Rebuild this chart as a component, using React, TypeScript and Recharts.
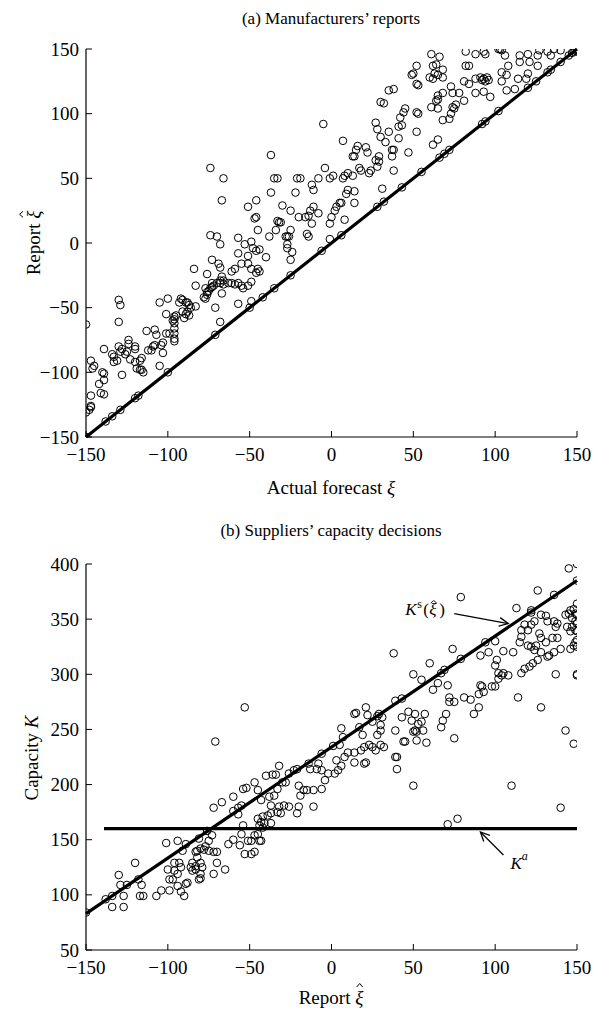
import React from 'react';
import { ScatterChart, Scatter, XAxis, YAxis, ReferenceLine, ReferenceDot } from 'recharts';

const SERIF = '"Liberation Serif", "Times New Roman", Times, serif';
const XI = '\u03BE';

const forecastTicks = [-150, -100, -50, 0, 50, 100, 150];
const capacityTicks = [50, 100, 150, 200, 250, 300, 350, 400];
const forecastDomain = [-150, 150];
const capacityDomain = [50, 400];

// Panel (a): [actual forecast, report]
const manufacturerReports: [number, number][] = [
  [-150,-63],[-147,-91],[-145,-95],[-146,-97],[-147,-118],[-147,-126],[-147,-127],[-148,-129],[-150,-131],[-150,-150],
  [-139,-82],[-140,-100],[-139,-101],[-142,-109],[-141,-116],[-139,-117],[-139,-106],[-138,-138],
  [-134,-86],[-133,-88],[-133,-92],[-131,-91],[-134,-134],
  [-130,-44],[-129,-48],[-130,-61],[-130,-80],[-128,-82],[-129,-84],[-125,-84],[-126,-86],[-124,-75],[-124,-78],[-123,-90],[-128,-102],[-129,-129],
  [-120,-80],[-117,-91],[-116,-89],[-119,-97],[-117,-98],[-116,-98],[-120,-92],[-120,-82],[-115,-100],[-120,-120],[-118,-118],
  [-112,-83],[-110,-83],[-109,-80],[-108,-79],[-113,-68],[-108,-67],[-107,-71],[-104,-79],[-103,-85],[-105,-95],
  [-105,-46],[-100,-43],[-101,-55],[-101,-70],[-99,-70],[-103,-77],[-100,-100],
  [-97,-60],[-96,-59],[-96,-57],[-95,-56],[-96,-62],[-96,-66],[-96,-70],[-96,-74],[-96,-76],
  [-92,-43],[-91,-44],[-93,-46],[-89,-46],[-88,-46],[-89,-55],[-88,-53],[-87,-56],[-90,-58],[-91,-53],
  [-87,-48],[-86,-50],[-83,-49],[-83,-33],[-78,-42],[-77,-43],
  [-77,-35],[-76,-38],[-76,-40],[-75,-37],[-74,-35],[-73,-34],[-72,-33],[-73,-31],
  [-71,-71],[-71,-50],[-70,-31],[-68,-31],[-66,-32],[-67,-39],[-68,-61],
  [-63,-31],[-61,-31],[-59,-32],[-57,-31],[-55,-33],[-51,-33],[-49,-30],[-54,-35],[-57,-47],[-50,-50],[-49,-45],[-35,-35],[-42,-42],
  [-74,58],[-66,50],[-37,68],[-67,33],[-51,28],[-46,33],[-47,19],[-46,20],[-45,10],[-74,6],[-70,5],[-68,-1],[-57,4],[-53,-1],[-49,1],
  [-48,-4],[-46,-6],[-44,-5],[-40,-11],[-57,-8],[-55,-16],[-51,-10],[-51,-16],[-49,-20],[-45,-20],[-44,-22],[-46,-23],[-73,-13],[-69,-16],
  [-68,-19],[-84,-20],[-76,-24],[-61,-22],[-59,-20],[-67,-26],[-68,-29],[-66,-29],
  [-38,5],[-34,10],[-32,16],[-31,16],[-33,17],[-28,5],[-27,5],[-26,5],[-25,10],[-30,29],[-25,25],[-20,20],[-27,-4],[-24,-7],[-25,-13],
  [-27,-1],[-21,50],[-22,39],[-35,50],[-33,50],[-37,39],[-25,-25],
  [-5,92],[7,79],[-19,50],[-16,20],[-14,21],[-12,15],[-13,25],[-11,28],[-8,23],[-12,45],[-11,41],[-8,50],[-15,7],[-14,5],[-4,58],[-1,50],
  [1,52],[-1,15],[0,20],[2,25],[3,28],[5,31],[6,31],[-1,3],[8,18],
  [7,50],[8,52],[10,54],[9,38],[10,41],[13,52],[14,40],[14,31],[17,58],[18,56],[14,67],[13,67],[16,75],[15,72],[21,74],[22,70],
  [23,54],[24,56],[27,64],[28,59],[29,63],[30,82],[33,78],[29,67],[31,42],[38,56],[37,72],[38,72],[37,67],[41,81],[43,91],[44,101],
  [45,104],[42,97],[41,90],[35,86],[47,70],[52,86],[52,101],[53,100],[49,130],[50,131],[52,123],[53,122],[52,137],
  [27,93],[28,88],[35,118],[38,119],[30,109],[32,108],
  [60,128],[62,127],[65,130],[68,128],[68,134],[63,131],
  [61,105],[65,104],[64,110],[65,114],[68,116],[65,111],
  [62,76],[65,80],[68,95],[72,96],[73,100],[74,105],[75,104],[76,107],[73,121],[74,116],[78,116],[81,110],
  [81,125],[84,123],[88,127],[91,128],[93,127],[95,128],[96,126],[93,117],[97,113],[88,116],[94,125],[92,126],
  [82,137],[84,137],[104,132],[107,130],[108,137],[114,127],[119,127],[120,131],[126,137],[104,125],[107,118],[112,119],[115,140],
  [-6,-6],[6,6],[28,28],[32,32],[43,43],[55,55],[66,66],[69,69],[72,72],[92,92],[94,94],[102,102],[120,120],[125,125],[132,132],[134,134],[140,140],
  [61,146],[66,144],[82,148],[88,146],[93,148],[94,146],[102,150],[103,150],[104,149],[106,145],[115,145],[120,146],[126,145],[127,149],
  [132,148],[134,145],[136,150],[140,149],[62,137],[64,138],[121,140],
  [148,148],[150,150],[149,149],[150,148],[147,147],[145,145],
];

// Panel (b): [report, capacity]
const supplierCapacities: [number, number][] = [
  [-150,84],[-138,96],[-134,99],[-134,89],
  [-130,118],[-129,109],[-127,99],[-127,89],[-125,109],
  [-120,129],[-118,114],[-116,109],[-117,99],[-115,99],
  [-107,99],[-104,104],[-99,104],
  [-101,147],[-94,149],
  [-100,123],[-99,114],[-97,114],[-96,122],[-96,129],[-93,129],[-94,119],[-94,108],[-92,103],[-90,99],[-89,110],[-88,111],[-91,140],[-89,146],[-92,125],
  [-86,125],[-85,122],[-85,129],[-83,123],[-83,126],[-82,134],[-83,139],[-82,140],[-80,142],[-80,129],[-80,119],[-80,115],[-81,114],[-79,125],
  [-78,141],[-75,140],[-72,139],[-70,129],[-70,139],[-77,144],[-81,151],[-73,154],[-75,149],
  [-72,119],[-65,123],
  [-72,179],[-67,184],[-63,146],[-60,150],[-56,145],[-55,155],[-53,137],[-54,163],[-60,176],[-57,179],[-57,173],[-55,181],
  [-51,149],[-49,149],[-47,154],[-45,155],[-44,149],[-43,149],[-45,169],[-44,163],[-43,166],[-42,161],[-47,139],[-49,137],[-42,171],[-41,165],
  [-39,172],[-37,165],[-37,174],[-33,175],[-31,174],[-29,181],[-32,180],[-26,180],[-20,180],[-21,174],[-11,180],[-43,186],[-37,181],
  [-76,158],
  [-71,239],[-53,270],[-60,189],[-54,196],[-52,197],[-47,202],[-45,195],[-40,208],[-36,209],[-34,209],[-32,217],[-38,189],[-35,190],[-33,196],
  [-30,202],[-28,202],[-26,210],[-23,213],[-21,214],[-20,199],
  [150,400],[145,396],[150,385],[126,376],[136,372],[79,370],[113,360],
  [122,358],[128,354],[131,353],[132,348],[136,348],[138,346],[137,343],[143,354],[145,355],[146,358],[148,359],[149,355],[150,364],[150,354],
  [147,351],[149,348],[150,346],[144,343],[147,343],[149,340],[150,339],[146,339],[124,348],[122,345],[118,345],[116,340],[120,340],[127,337],
  [128,333],[131,329],[135,333],[138,333],[116,334],[115,329],[120,326],[122,325],[125,326],[124,322],[128,320],[133,317],[136,320],[140,323],
  [146,323],[148,326],[149,329],[150,331],[150,325],[132,316],[126,313],[123,310],[121,307],[118,305],[116,301],[137,300],[150,300],[150,299],
  [111,320],[105,321],[101,313],[100,308],[102,301],[104,299],[105,301],[108,299],[102,296],[100,289],[98,289],[92,289],[93,284],[90,282],
  [91,290],[114,279],[128,270],[143,249],[148,237],[110,199],
  [38,319],[60,310],[74,323],[79,314],[69,304],[67,301],[50,300],[55,295],[65,292],[71,290],[62,286],
  [91,317],[94,329],[100,330],[96,320],
  [72,279],[75,275],[81,279],[85,277],[87,264],[90,270],[72,275],
  [70,264],[68,258],[67,252],[75,242],
  [57,264],[55,257],[53,255],[51,249],[52,248],[50,248],[56,249],[58,238],[52,240],[49,258],[51,264],
  [47,266],[43,261],[39,249],[44,239],[45,239],[39,225],[40,225],[40,214],[50,199],
  [30,254],[30,249],[28,245],[31,261],[25,257],
  [29,264],[22,263],[17,252],[19,245],[14,264],[15,265],[21,270],
  [23,236],[25,234],[30,236],[32,234],[27,231],[20,234],[18,231],[10,229],[14,229],
  [6,251],[7,243],[5,236],[14,220],[20,219],[21,220],[8,225],[3,222],[6,217],[4,213],[2,210],[-2,210],[-6,213],[-9,214],[-14,219],[-4,204],
  [-6,196],[-11,195],[-15,195],[-17,195],[-19,190],[-8,219],[-13,214],
  [-6,228],[1,235],[28,262],[39,276],[43,278],[122,356],
  [71,164],[77,169],[140,179],
];

const truthLine = [{ x: -150, y: -150 }, { x: 150, y: 150 }];
const ksLine = [{ x: -150, y: 83 }, { x: 150, y: 385 }];
const kaLine = [{ x: -139, y: 160 }, { x: 150, y: 160 }];
const ksArrowTip = { x: 108, y: 346 };
const kaArrowTip = { x: 91, y: 157 };

const panelAData = manufacturerReports.map(([x, y]) => ({ x, y }));
const panelBData = supplierCapacities.map(([x, y]) => ({ x, y }));

const TICK_FONT = 19;
const TICK_LEN = 6;
const AXIS = { stroke: '#000', strokeWidth: 1.2 };

const fmt = (v: number) => (v < 0 ? '\u2212' + Math.abs(v) : String(v));

const LeftTick = (p: any) => (
  <g>
    <line x1={p.x} x2={p.x + TICK_LEN} y1={p.y} y2={p.y} stroke="#000" strokeWidth={1} />
    <text x={p.x - 7} y={p.y} textAnchor="end" dominantBaseline="central" fontSize={TICK_FONT} fontFamily={SERIF} fill="#000">
      {fmt(p.payload.value)}
    </text>
  </g>
);
const BottomTick = (p: any) => (
  <g>
    <line x1={p.x} x2={p.x} y1={p.y} y2={p.y - TICK_LEN} stroke="#000" strokeWidth={1} />
    <text x={p.x} y={p.y + 24} textAnchor="middle" fontSize={TICK_FONT} fontFamily={SERIF} fill="#000">
      {fmt(p.payload.value)}
    </text>
  </g>
);
const TopTick = (p: any) => (
  <line x1={p.x} x2={p.x} y1={p.y} y2={p.y + TICK_LEN} stroke="#000" strokeWidth={1} />
);
const RightTick = (p: any) => (
  <line x1={p.x} x2={p.x - TICK_LEN} y1={p.y} y2={p.y} stroke="#000" strokeWidth={1} />
);

const OpenCircle = (p: any) => (
  <circle cx={p.cx} cy={p.cy} r={3.8} fill="none" stroke="#000" strokeWidth={1} />
);

function arrowHead(tx: number, ty: number, fx: number, fy: number, len = 10, ang = 0.45) {
  const a = Math.atan2(ty - fy, tx - fx);
  const p1 = [tx - len * Math.cos(a - ang), ty - len * Math.sin(a - ang)];
  const p2 = [tx - len * Math.cos(a + ang), ty - len * Math.sin(a + ang)];
  return `M${p1[0]},${p1[1]} L${tx},${ty} L${p2[0]},${p2[1]}`;
}

const KsLabel = (p: any) => {
  const { cx, cy } = p;
  const fx = cx - 54, fy = cy - 10;
  const L = cx - 103;
  const by = cy - 9;
  const hatX = L + 28.5;
  const hatY = by - 14;
  return (
    <g fontFamily={SERIF} fill="#000">
      <line x1={fx} y1={fy} x2={cx} y2={cy} stroke="#000" strokeWidth={1.3} />
      <path d={arrowHead(cx, cy, fx, fy)} fill="none" stroke="#000" strokeWidth={1.3} />
      <text x={L} y={by} fontSize={17} fontStyle="italic">K</text>
      <text x={L + 12} y={by - 7} fontSize={12}>s</text>
      <text x={L + 18} y={by} fontSize={17}>(</text>
      <text x={L + 24} y={by} fontSize={17} fontStyle="italic">{XI}</text>
      <text x={L + 34} y={by} fontSize={17}>)</text>
      <path d={`M${hatX - 3},${hatY + 2.5} L${hatX},${hatY} L${hatX + 3},${hatY + 2.5}`} fill="none" stroke="#000" strokeWidth={0.9} />
    </g>
  );
};

const KaLabel = (p: any) => {
  const { cx, cy } = p;
  const fx = cx + 23, fy = cy + 23;
  return (
    <g>
      <line x1={fx} y1={fy} x2={cx} y2={cy} stroke="#000" strokeWidth={1.3} />
      <path d={arrowHead(cx, cy, fx, fy)} fill="none" stroke="#000" strokeWidth={1.3} />
      <text x={cx + 30} y={cy + 31} textAnchor="start" dominantBaseline="central" fontSize={17} fontFamily={SERIF} fill="#000">
        <tspan fontStyle="italic">K</tspan>
        <tspan fontSize={12} dy={-7} fontStyle="italic">a</tspan>
      </text>
    </g>
  );
};

function Frame(yDomain: number[], yTicks: number[], xAxisHeight: number) {
  return [
    <XAxis key="xb" dataKey="x" type="number" domain={forecastDomain} ticks={forecastTicks} interval={0}
      height={xAxisHeight} tickSize={0} tickMargin={0} tickLine={false} axisLine={AXIS} tick={BottomTick} allowDataOverflow />,
    <XAxis key="xt" xAxisId="top" orientation="top" type="number" domain={forecastDomain} ticks={forecastTicks} interval={0}
      height={0} tickSize={0} tickMargin={0} tickLine={false} axisLine={AXIS} tick={TopTick} allowDataOverflow />,
    <YAxis key="yl" dataKey="y" type="number" domain={yDomain} ticks={yTicks} interval={0}
      width={86} tickSize={0} tickMargin={0} tickLine={false} axisLine={AXIS} tick={LeftTick} allowDataOverflow />,
    <YAxis key="yr" yAxisId="right" orientation="right" type="number" domain={yDomain} ticks={yTicks} interval={0}
      width={0} tickSize={0} tickMargin={0} tickLine={false} axisLine={AXIS} tick={RightTick} allowDataOverflow />,
  ];
}

const textStyle: React.CSSProperties = {
  position: 'absolute',
  transform: 'translate(-50%, -50%)',
  whiteSpace: 'nowrap',
  fontFamily: SERIF,
  color: '#000',
  lineHeight: 1,
};

function XiHat() {
  return (
    <span style={{ position: 'relative', display: 'inline-block', fontStyle: 'italic' }}>
      {XI}
      <svg width={8} height={5} style={{ position: 'absolute', left: 'calc(60% - 4px)', top: '-0.25em', overflow: 'visible' }}>
        <path d="M1,4.5 L4,1 L7,4.5" fill="none" stroke="#000" strokeWidth={1} />
      </svg>
    </span>
  );
}

export default function App() {
  return (
    <div style={{ position: 'absolute', left: 0, top: 0, width: 602, height: 1010, background: '#fff' }}>
      <div style={{ position: 'absolute', left: 0, top: 0 }}>
        <ScatterChart width={602} height={500} margin={{ top: 49, right: 25, left: 0, bottom: 0 }}>
          {Frame(forecastDomain, forecastTicks, 63)}
          <Scatter data={panelAData} shape={OpenCircle} isAnimationActive={false} />
          <ReferenceLine segment={truthLine} stroke="#000" strokeWidth={3.2} ifOverflow="visible" />
        </ScatterChart>
      </div>
      <div style={{ position: 'absolute', left: 0, top: 515 }}>
        <ScatterChart width={602} height={495} margin={{ top: 49, right: 25, left: 0, bottom: 0 }}>
          {Frame(capacityDomain, capacityTicks, 60)}
          <Scatter data={panelBData} shape={OpenCircle} isAnimationActive={false} />
          <ReferenceLine segment={ksLine} stroke="#000" strokeWidth={3.2} ifOverflow="visible" />
          <ReferenceLine segment={kaLine} stroke="#000" strokeWidth={3.2} ifOverflow="visible" />
          <ReferenceDot x={ksArrowTip.x} y={ksArrowTip.y} r={0} shape={KsLabel} />
          <ReferenceDot x={kaArrowTip.x} y={kaArrowTip.y} r={0} shape={KaLabel} />
        </ScatterChart>
      </div>

      <div style={{ ...textStyle, left: 331, top: 18, fontSize: 17 }}>(a) Manufacturers’ reports</div>
      <div style={{ ...textStyle, left: 331, top: 487, fontSize: 19 }}>
        Actual forecast <i>{XI}</i>
      </div>
      <div style={{ ...textStyle, left: 33, top: 243, fontSize: 19, transform: 'translate(-50%, -50%) rotate(-90deg)' }}>
        Report <XiHat />
      </div>

      <div style={{ ...textStyle, left: 331, top: 530, fontSize: 17 }}>(b) Suppliers’ capacity decisions</div>
      <div style={{ ...textStyle, left: 331, top: 997, fontSize: 19 }}>
        Report <XiHat />
      </div>
      <div style={{ ...textStyle, left: 31, top: 758, fontSize: 19, transform: 'translate(-50%, -50%) rotate(-90deg)' }}>
        Capacity <i>K</i>
      </div>
    </div>
  );
}
